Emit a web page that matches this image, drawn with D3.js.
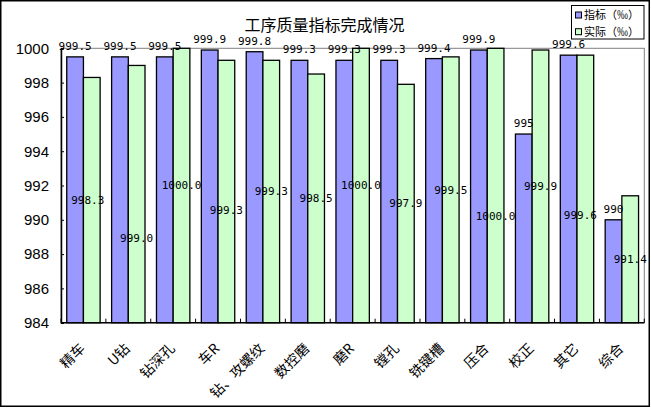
<!DOCTYPE html>
<html><head><meta charset="utf-8">
<script src="https://cdn.jsdelivr.net/npm/d3@7"></script>
<style>html,body{margin:0;padding:0;background:#fff;}svg{display:block;}</style>
</head><body>
<svg id="c" width="651" height="408"></svg>
<script>
const categories = ["精车","U钻","钻深孔","车R","钻、攻螺纹","数控磨","磨R","镗孔","铣键槽","压合","校正","其它","综合"];
const target = [999.5,999.5,999.5,999.9,999.8,999.3,999.3,999.3,999.4,999.9,995,999.6,990];
const actual = [998.3,999.0,1000.0,999.3,999.3,998.5,1000.0,997.9,999.5,1000.0,999.9,999.6,991.4];
const targetLabels = ["999.5","999.5","999.5","999.9","999.8","999.3","999.3","999.3","999.4","999.9","995","999.6","990"];
const actualLabels = ["998.3","999.0","1000.0","999.3","999.3","998.5","1000.0","997.9","999.5","1000.0","999.9","999.6","991.4"];
const yTicks = [984,986,988,990,992,994,996,998,1000];
const seriesNames = ["指标（‰）","实际（‰）"];
const colors = ["#9999FF","#CCFFCC"];

// layout: manual pixel nudges of the in-bar labels (as dragged in the original)
const labelNudgeX = [-4,0,0,0,0,0,0,0,0,0,0,-5,0];
const labelNudgeY = [0,44,0,19,0,0,0,0,0,31,0,26,0];

const svg = d3.select("#c");
const L = 61, R = 644.3, T = 48.3, B = 322.7;
const x = d3.scaleBand().domain(categories).range([L, R]).paddingInner(0).paddingOuter(0);
const y = d3.scaleLinear().domain([984, 1000]).range([B, T]);
const bw = x.bandwidth();
const barW = bw * 0.372;
const off = bw * 0.128;

// outer border
svg.append("rect").attr("x",0.75).attr("y",0.75).attr("width",648.5).attr("height",405.5)
  .attr("fill","#fff").attr("stroke","#000").attr("stroke-width",1.5);

// plot frame (gray top/right)
svg.append("rect").attr("x",L).attr("y",T).attr("width",R-L).attr("height",B-T)
  .attr("fill","none").attr("stroke","#808080").attr("stroke-width",1);

const fontNum = "'DejaVu Sans Mono', monospace";

// bars
const g = svg.append("g");
categories.forEach((c,i)=>{
  const x0 = x(c) + off;
  g.append("rect").attr("x",x0).attr("y",y(target[i])).attr("width",barW).attr("height",B-y(target[i]))
    .attr("fill",colors[0]).attr("stroke","#000").attr("stroke-width",1.3);
  g.append("rect").attr("x",x0+barW).attr("y",y(actual[i])).attr("width",barW).attr("height",B-y(actual[i]))
    .attr("fill",colors[1]).attr("stroke","#000").attr("stroke-width",1.3);
});

// axes
const yAxis = d3.axisLeft(y).tickValues(yTicks).tickSize(-3).tickPadding(12).tickFormat(d3.format("d"));
const ya = svg.append("g").attr("transform",`translate(${L},0)`).call(yAxis);
ya.select(".domain").attr("stroke","#000").attr("stroke-width",1.5);
ya.selectAll(".tick line").attr("stroke","#000");
ya.selectAll("text").attr("font-family","'Liberation Sans', Arial, sans-serif").attr("font-size",15).attr("fill","#000");

const xa = svg.append("g").attr("transform",`translate(0,${B})`);
xa.append("line").attr("x1",L).attr("x2",R).attr("y1",0).attr("y2",0).attr("stroke","#000").attr("stroke-width",1.5);
const bounds = categories.map(c=>x(c)).concat([R]);
xa.selectAll("line.tk").data(bounds).enter().append("line").attr("class","tk")
  .attr("x1",d=>d).attr("x2",d=>d).attr("y1",0).attr("y2",-4).attr("stroke","#000");

// x labels
svg.append("g").selectAll("text").data(categories).enter().append("text")
  .attr("transform",d=>`translate(${x(d)+bw/2-1},346) rotate(-45)`)
  .attr("text-anchor","end").attr("dy","0.35em")
  .attr("font-family","'Noto Sans CJK SC', sans-serif").attr("font-size",14).attr("fill","#000")
  .text(d=>d);

// value labels
categories.forEach((c,i)=>{
  const x0 = x(c) + off;
  svg.append("text").attr("x",x0+barW/2).attr("y",y(target[i])-7).attr("text-anchor","middle")
    .attr("font-family",fontNum).attr("font-size",11).attr("fill","#000").text(targetLabels[i]);
  svg.append("text").attr("x",x0+barW*1.5+labelNudgeX[i]).attr("y",(y(actual[i])+B)/2+labelNudgeY[i])
    .attr("dy","0.35em").attr("text-anchor","middle")
    .attr("font-family",fontNum).attr("font-size",11).attr("fill","#000").text(actualLabels[i]);
});

// title
svg.append("text").attr("x",324.5).attr("y",31).attr("text-anchor","middle")
  .attr("font-family","'Noto Sans CJK SC', sans-serif").attr("font-size",16).attr("fill","#000")
  .text("工序质量指标完成情况");

// legend
const lg = svg.append("g");
lg.append("rect").attr("x",571.5).attr("y",5.5).attr("width",72.5).attr("height",33.5)
  .attr("fill","#fff").attr("stroke","#000").attr("stroke-width",1);
seriesNames.forEach((s,i)=>{
  const cy = 15 + i*16.7;
  lg.append("rect").attr("x",575.5).attr("y",cy-3).attr("width",6).attr("height",6)
    .attr("fill",colors[i]).attr("stroke","#000").attr("stroke-width",1);
  lg.append("text").attr("x",584).attr("y",cy).attr("dy","0.36em")
    .attr("font-family","'Noto Sans CJK SC', sans-serif").attr("font-size",11).attr("fill","#000").text(s);
});
</script>
</body></html>
